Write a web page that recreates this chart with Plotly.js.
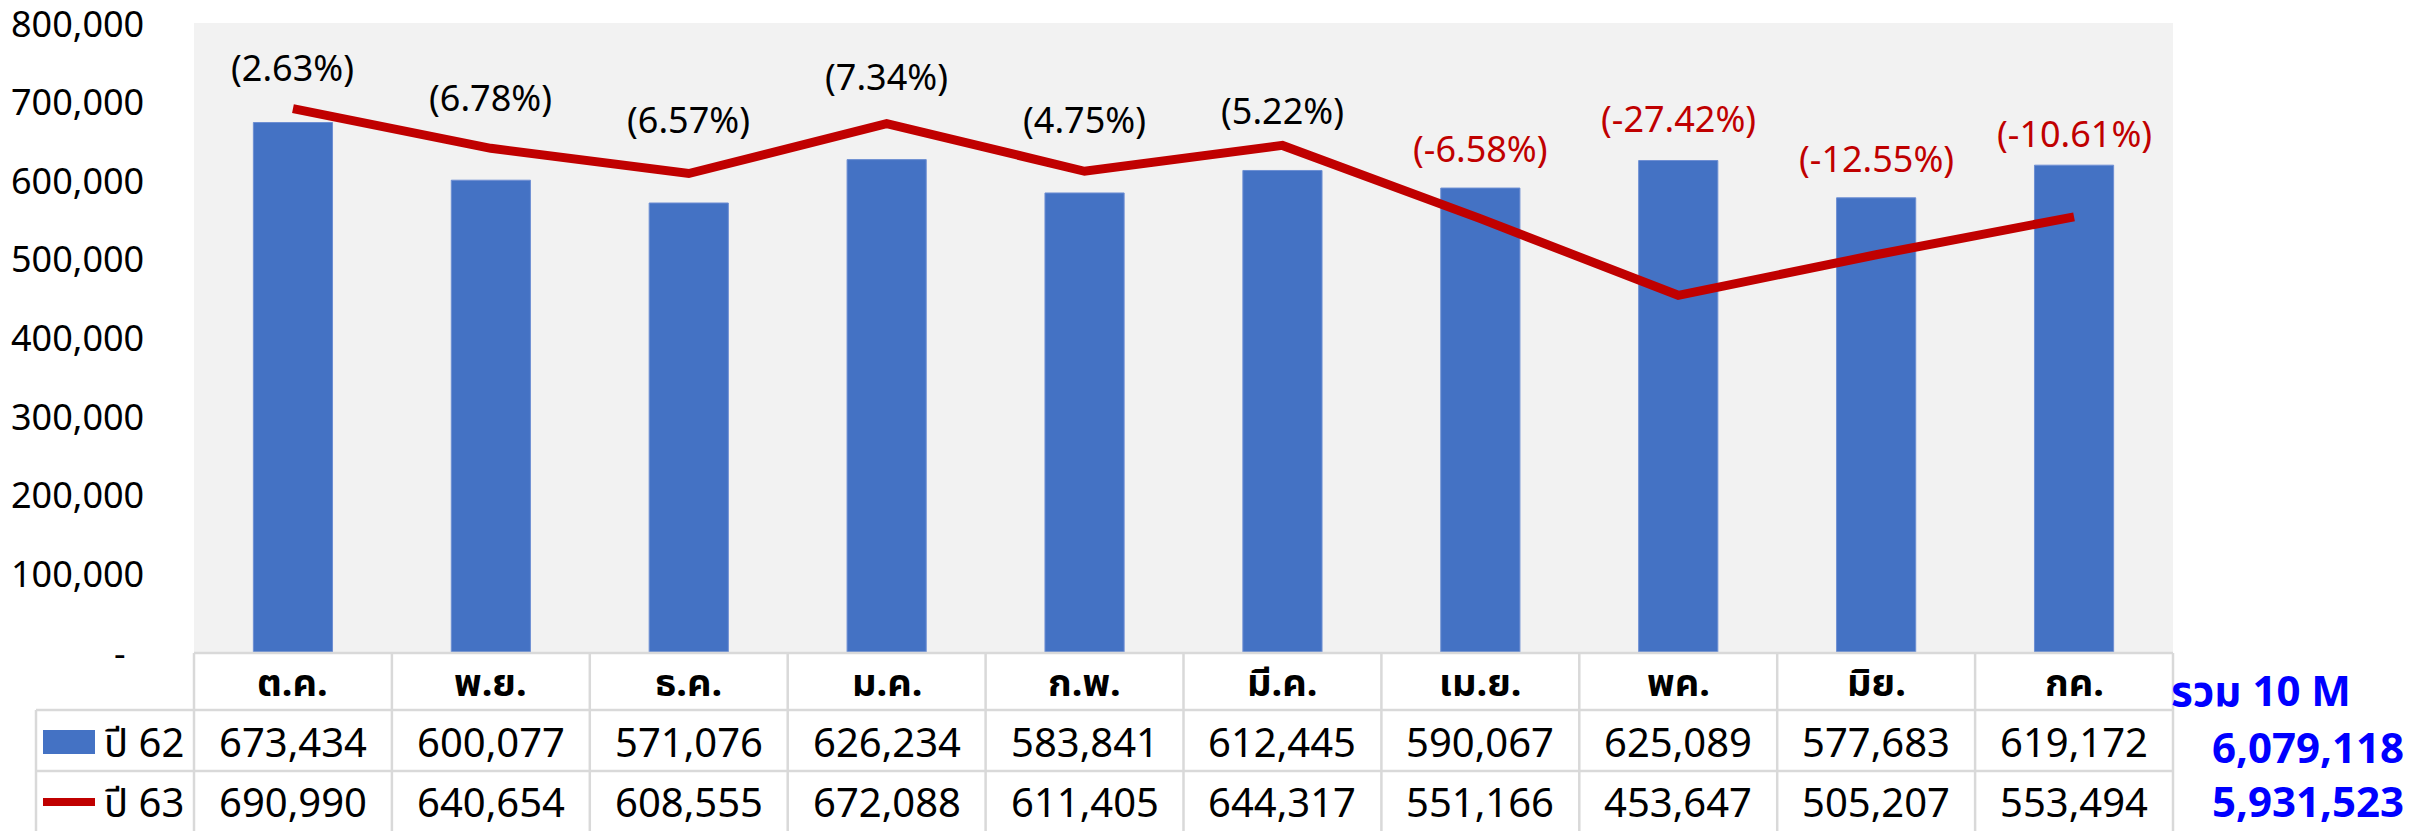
<!DOCTYPE html>
<html>
<head>
<meta charset="utf-8">
<script src="https://cdn.plot.ly/plotly-3.0.1.min.js"></script>
<style>
html,body{margin:0;padding:0;background:#fff;}
#chart{width:2422px;height:831px;}
</style>
</head>
<body>
<div id="chart"></div>
<script>
// ---- data ----
const months = ["ต.ค.", "พ.ย.", "ธ.ค.", "ม.ค.", "ก.พ.", "มี.ค.", "เม.ย.", "พค.", "มิย.", "กค."];
const year62 = [673434, 600077, 571076, 626234, 583841, 612445, 590067, 625089, 577683, 619172];
const year63 = [690990, 640654, 608555, 672088, 611405, 644317, 551166, 453647, 505207, 553494];
const pctChange = [2.63, 6.78, 6.57, 7.34, 4.75, 5.22, -6.58, -27.42, -12.55, -10.61];
const seriesNames = ["ปี 62", "ปี 63"];
const totalLabel = "รวม 10 M";
const yTicks = [0, 100000, 200000, 300000, 400000, 500000, 600000, 700000, 800000];

// ---- layout helpers (pixel -> paper) ----
const W = 2422, H = 831;
const L = 194, R = 2173, T = 23, B = 652;
const px = x => (x - L) / (R - L);
const py = y => (B - y) / (B - T);
const FONT = "Tahoma, 'Noto Sans', 'Noto Sans Thai', 'DejaVu Sans', sans-serif";
const fmt = v => v.toLocaleString('en-US');
const labelLift = [41, 51, 54, 47, 52, 35, 40, 42, 39, 32];

const traces = [
  {
    type: 'bar', x: months, y: year62, name: seriesNames[0],
    width: 0.4, marker: {color: '#4472C4', line: {color: '#6E8FD3', width: 1}},
    hoverinfo: 'skip'
  },
  {
    type: 'scatter', mode: 'lines', x: months, y: year63, name: seriesNames[1],
    line: {color: '#C00000', width: 9}, hoverinfo: 'skip', cliponaxis: false
  }
];

const annotations = [];
const shapes = [];

// y-axis tick labels (placed on the y scale)
yTicks.forEach(v => {
  annotations.push({
    x: px(146), xref: 'paper', y: v, yref: 'y',
    text: v === 0 ? '-' : fmt(v), showarrow: false,
    xanchor: 'right', yanchor: 'middle', xshift: v === 0 ? -18 : 0,
    font: {family: FONT, size: 36, color: '#000'}
  });
});

// percent labels
months.forEach((m, i) => {
  const v = pctChange[i];
  annotations.push({
    x: m, xref: 'x', y: Math.max(year62[i], year63[i]), yref: 'y',
    yshift: labelLift[i],
    text: '(' + v.toFixed(2) + '%)', showarrow: false,
    xanchor: 'center', yanchor: 'middle',
    font: {family: FONT, size: 36, color: v < 0 ? '#C00000' : '#000000'}
  });
});

// table header + values
months.forEach((m, i) => {
  annotations.push({
    x: m, xref: 'x', y: py(681), yref: 'paper', text: '<b>' + m + '</b>', showarrow: false,
    xanchor: 'center', yanchor: 'middle', font: {family: FONT, size: 38, color: '#000'}
  });
  annotations.push({
    x: m, xref: 'x', y: py(741), yref: 'paper', text: fmt(year62[i]), showarrow: false,
    xanchor: 'center', yanchor: 'middle', font: {family: FONT, size: 40, color: '#000'}
  });
  annotations.push({
    x: m, xref: 'x', y: py(801), yref: 'paper', text: fmt(year63[i]), showarrow: false,
    xanchor: 'center', yanchor: 'middle', font: {family: FONT, size: 40, color: '#000'}
  });
});

// legend labels in table
annotations.push({
  x: px(102), xref: 'paper', y: py(741), yref: 'paper', text: seriesNames[0], showarrow: false,
  xanchor: 'left', yanchor: 'middle', font: {family: FONT, size: 40, color: '#000'}
});
annotations.push({
  x: px(102), xref: 'paper', y: py(801), yref: 'paper', text: seriesNames[1], showarrow: false,
  xanchor: 'left', yanchor: 'middle', font: {family: FONT, size: 40, color: '#000'}
});

// totals
const sum = a => a.reduce((s, v) => s + v, 0);
annotations.push({
  x: px(2261), xref: 'paper', y: py(690), yref: 'paper', text: '<b>' + totalLabel + '</b>', showarrow: false,
  xanchor: 'center', yanchor: 'middle', font: {family: FONT, size: 42, color: '#0000FF'}
});
annotations.push({
  x: px(2406), xref: 'paper', y: py(746), yref: 'paper', text: '<b>' + fmt(sum(year62)) + '</b>', showarrow: false,
  xanchor: 'right', yanchor: 'middle', font: {family: FONT, size: 42, color: '#0000FF'}
});
annotations.push({
  x: px(2406), xref: 'paper', y: py(800), yref: 'paper', text: '<b>' + fmt(sum(year63)) + '</b>', showarrow: false,
  xanchor: 'right', yanchor: 'middle', font: {family: FONT, size: 42, color: '#0000FF'}
});

// table grid
const gridColor = '#D9D9D9';
const hline = (x0, x1, y) => shapes.push({type: 'line', xref: 'paper', yref: 'paper',
  x0: px(x0), x1: px(x1), y0: py(y), y1: py(y), line: {color: gridColor, width: 2.5}, layer: 'above'});
const vline = (x, y0, y1) => shapes.push({type: 'line', xref: 'paper', yref: 'paper',
  x0: px(x), x1: px(x), y0: py(y0), y1: py(y1), line: {color: gridColor, width: 2.5}, layer: 'above'});
hline(L, R, 653);
hline(36, R, 710);
hline(36, R, 771);
for (let k = 0; k <= months.length; k++) vline(L + (R - L) * k / months.length, 653, 835);
vline(36, 710, 835);

// legend keys
shapes.push({type: 'rect', xref: 'paper', yref: 'paper', x0: px(43), x1: px(95), y0: py(730), y1: py(754),
  fillcolor: '#4472C4', line: {width: 0}});
shapes.push({type: 'line', xref: 'paper', yref: 'paper', x0: px(43), x1: px(95), y0: py(802), y1: py(802),
  line: {color: '#C00000', width: 8}});

const layout = {
  width: W, height: H,
  margin: {l: L, r: W - R, t: T, b: H - B, pad: 0},
  paper_bgcolor: '#FFFFFF',
  plot_bgcolor: '#F2F2F2',
  showlegend: false,
  bargap: 0.6,
  xaxis: {
    type: 'category', range: [-0.5, months.length - 0.5],
    showticklabels: false, showgrid: false, zeroline: false, showline: false, ticks: ''
  },
  yaxis: {
    range: [0, 800000], tickvals: yTicks,
    showticklabels: false,
    showgrid: false, zeroline: false, showline: false, ticks: ''
  },
  annotations: annotations,
  shapes: shapes
};

Plotly.newPlot('chart', traces, layout, {staticPlot: true, displayModeBar: false});
</script>
</body>
</html>
